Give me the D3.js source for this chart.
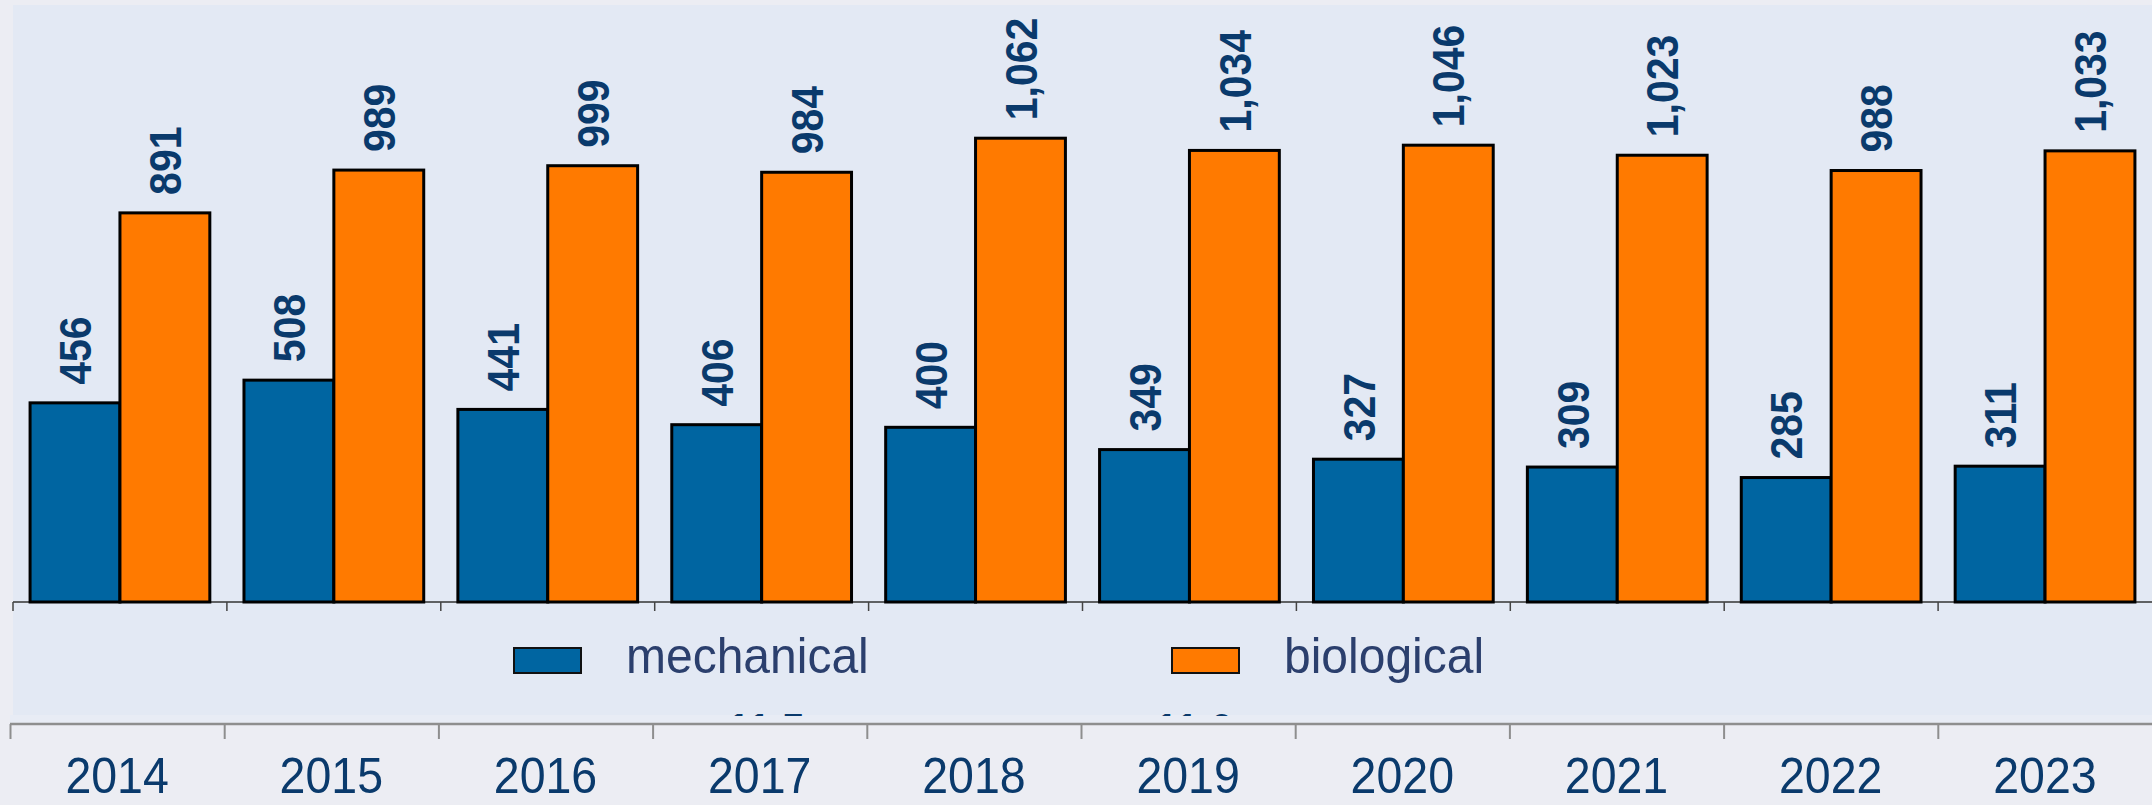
<!DOCTYPE html>
<html>
<head>
<meta charset="utf-8">
<script src="https://cdn.jsdelivr.net/npm/d3@7"></script>
<style>
  body { margin: 0; background: #ecedf3; }
  svg { display: block; }
</style>
</head>
<body>
<script>
var years = ["2014", "2015", "2016", "2017", "2018", "2019", "2020", "2021", "2022", "2023"];
var seriesNames = ["mechanical", "biological"];
var mechanical = [456, 508, 441, 406, 400, 349, 327, 309, 285, 311];
var biological = [891, 989, 999, 984, 1062, 1034, 1046, 1023, 988, 1033];
// cut-off labels peeking in at the bottom of the panel
var hiddenLabels = ["11.5", "11.6"];
var hiddenLabelYears = ["2017", "2019"];

var width = 2152,
    height = 805;

var colors = { mechanical: "#0065a1", biological: "#ff7a00" };
var navy = "#0a3a6c";

var svg = d3.select("body")
    .append("svg")
    .attr("width", width)
    .attr("height", height);

// panel
svg.append("rect")
    .attr("x", 13).attr("y", 5)
    .attr("width", width - 13).attr("height", 710)
    .attr("fill", "#e3e9f4");
svg.append("rect")
    .attr("x", 10).attr("y", 715)
    .attr("width", width - 10).attr("height", 8)
    .attr("fill", "#e8ecf5");

svg.append("defs").append("clipPath")
    .attr("id", "panel-clip")
  .append("rect")
    .attr("x", 13).attr("y", 5)
    .attr("width", width - 13).attr("height", 711);

var x0 = d3.scaleBand()
    .domain(years)
    .range([13, width]);

var x1 = d3.scaleBand()
    .domain(seriesNames)
    .range([0, x0.bandwidth()])
    .paddingOuter(0.19);

var y = d3.scaleLinear()
    .domain([0, 1367])
    .range([602, 5]);

var fmt = d3.format(",");

var rows = years.map(function(yr, i) {
    return { year: yr, values: [
        { key: "mechanical", value: mechanical[i] },
        { key: "biological", value: biological[i] }
    ] };
});

// upper axis: baseline + ticks between groups
svg.append("line")
    .attr("x1", 13).attr("x2", width)
    .attr("y1", y(0)).attr("y2", y(0))
    .attr("stroke", "#333")
    .attr("stroke-width", 1.5);

svg.selectAll(".utick")
    .data(years)
  .enter().append("line")
    .attr("class", "utick")
    .attr("x1", function(d) { return x0(d); })
    .attr("x2", function(d) { return x0(d); })
    .attr("y1", y(0)).attr("y2", y(0) + 9)
    .attr("stroke", "#444")
    .attr("stroke-width", 1.5);

var groups = svg.selectAll(".group")
    .data(rows)
  .enter().append("g")
    .attr("class", "group")
    .attr("transform", function(d) { return "translate(" + x0(d.year) + ",0)"; });

groups.selectAll("rect")
    .data(function(d) { return d.values; })
  .enter().append("rect")
    .attr("x", function(d) { return x1(d.key); })
    .attr("y", function(d) { return y(d.value); })
    .attr("width", x1.bandwidth())
    .attr("height", function(d) { return y(0) - y(d.value); })
    .attr("fill", function(d) { return colors[d.key]; })
    .attr("stroke", "#000")
    .attr("stroke-width", 3);

groups.selectAll("text")
    .data(function(d) { return d.values; })
  .enter().append("text")
    .attr("transform", function(d) {
        var cx = x1(d.key) + x1.bandwidth() / 2;
        return "translate(" + cx + "," + (y(d.value) - 18) + ") rotate(-90) scale(0.91,1)";
    })
    .attr("dy", "0.36em")
    .attr("text-anchor", "start")
    .attr("font-family", "Liberation Sans, Arial, sans-serif")
    .attr("font-weight", "bold")
    .attr("font-size", 45)
    .attr("fill", navy)
    .text(function(d) { return fmt(d.value); });

// labels that sit below the panel edge, only their tops show
svg.append("g")
    .attr("clip-path", "url(#panel-clip)")
  .selectAll("text")
    .data(hiddenLabels)
  .enter().append("text")
    .attr("transform", function(d, i) {
        return "translate(" + (x0(hiddenLabelYears[i]) + x0.bandwidth() * 0.52) + ",745) scale(0.91,1)";
    })
    .attr("text-anchor", "middle")
    .attr("font-family", "Liberation Sans, Arial, sans-serif")
    .attr("font-weight", "bold")
    .attr("font-size", 45)
    .attr("fill", navy)
    .text(function(d) { return d; });

// legend
var legendX = [514, 1172];
var legend = svg.selectAll(".legend")
    .data(seriesNames)
  .enter().append("g")
    .attr("class", "legend")
    .attr("transform", function(d, i) { return "translate(" + legendX[i] + ",648)"; });

legend.append("rect")
    .attr("width", 67)
    .attr("height", 25)
    .attr("fill", function(d) { return colors[d]; })
    .attr("stroke", "#111")
    .attr("stroke-width", 2);

legend.append("text")
    .attr("transform", "translate(112,25) scale(0.96,1)")
    .attr("font-family", "Liberation Sans, Arial, sans-serif")
    .attr("font-size", 50)
    .attr("fill", "#2b3f6d")
    .text(function(d) { return d; });

// lower category axis
var xb = d3.scaleBand()
    .domain(years)
    .range([10, width]);

svg.append("line")
    .attr("x1", 10).attr("x2", width)
    .attr("y1", 724).attr("y2", 724)
    .attr("stroke", "#8e8e8e")
    .attr("stroke-width", 2.5);

svg.selectAll(".btick")
    .data(years)
  .enter().append("line")
    .attr("class", "btick")
    .attr("x1", function(d) { return xb(d) + 0.5; })
    .attr("x2", function(d) { return xb(d) + 0.5; })
    .attr("y1", 724).attr("y2", 739)
    .attr("stroke", "#8e8e8e")
    .attr("stroke-width", 2);

svg.selectAll(".blabel")
    .data(years)
  .enter().append("text")
    .attr("class", "blabel")
    .attr("transform", function(d) {
        return "translate(" + (xb(d) + xb.bandwidth() / 2) + ",793) scale(0.93,1)";
    })
    .attr("text-anchor", "middle")
    .attr("font-family", "Liberation Sans, Arial, sans-serif")
    .attr("font-size", 50)
    .attr("fill", navy)
    .text(function(d) { return d; });
</script>
</body>
</html>
